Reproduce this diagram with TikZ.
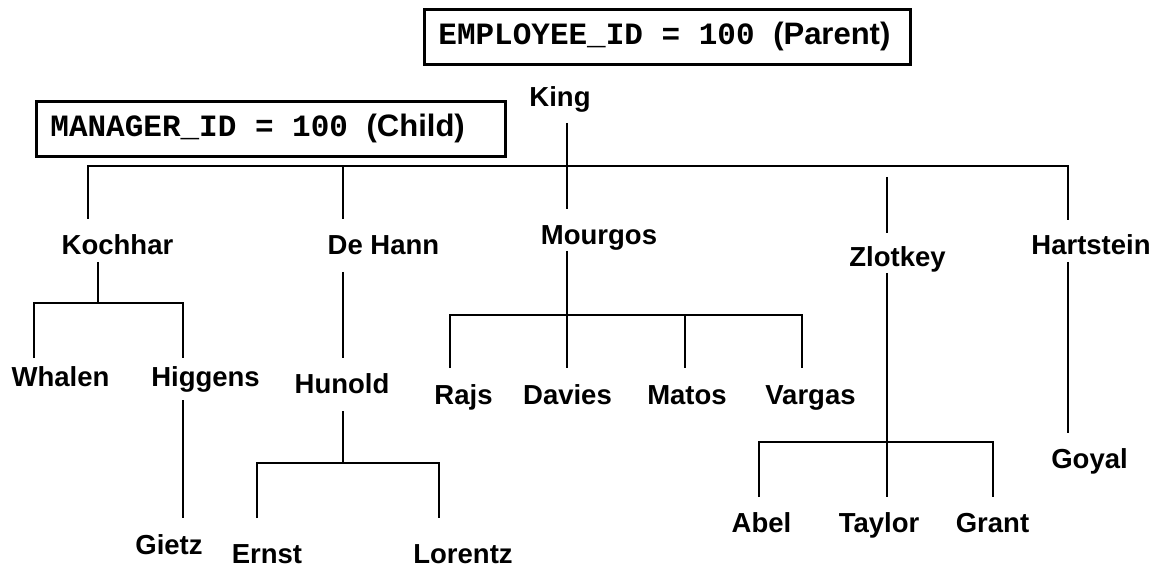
\documentclass[tikz,border=0pt]{standalone}
\usepackage{fontspec}
\setmainfont{Liberation Sans}
\setmonofont{Liberation Mono}
\newcommand\monotxt[1]{{\ttfamily\spaceskip=0.6em\relax #1}}
\begin{document}
\begin{tikzpicture}[x=1pt,y=-1pt,
  nm/.style={font=\fontsize{27.5}{30}\selectfont\bfseries, inner sep=0pt, anchor=base},
  idbox/.style={draw, line width=2.8pt, font=\fontsize{31}{34}\selectfont\bfseries,
    inner xsep=14pt, inner ysep=0pt, align=left, anchor=north west},
  conn/.style={line width=2.8pt, line join=miter}]
\useasboundingbox (0,0) rectangle (1156,569);
% boxes
\node[idbox, text width=458pt, minimum height=55pt] (parent) at (423,8)
  {\monotxt{EMPLOYEE\_ID = 100 }(Parent)};
\node[idbox, text width=441pt, minimum height=55pt] (child) at (35,100)
  {\monotxt{MANAGER\_ID = 100 }(Child)};
% names
\node[nm] (king) at (560,107) {King};
\node[nm] (kochhar) at (117.5,255) {Kochhar};
\node[nm] (dehann) at (383.5,255) {De Hann};
\node[nm] (mourgos) at (599,245) {Mourgos};
\node[nm] (zlotkey) at (897.5,266) {Zlotkey};
\node[nm] (hartstein) at (1091,255) {Hartstein};
\node[nm] (whalen) at (60.5,386) {Whalen};
\node[nm] (higgens) at (205.5,386) {Higgens};
\node[nm] (hunold) at (342,393) {Hunold};
\node[nm] (rajs) at (463.5,404) {Rajs};
\node[nm] (davies) at (567.5,404) {Davies};
\node[nm] (matos) at (687,404) {Matos};
\node[nm] (vargas) at (810.5,404) {Vargas};
\node[nm] (gietz) at (169,554) {Gietz};
\node[nm] (ernst) at (267,563) {Ernst};
\node[nm] (lorentz) at (463,563) {Lorentz};
\node[nm] (abel) at (761.5,532) {Abel};
\node[nm] (taylor) at (879,532) {Taylor};
\node[nm] (grant) at (992.5,532) {Grant};
\node[nm] (goyal) at (1089.5,468) {Goyal};
% connector end points
\coordinate (kingB) at (567,123);
\coordinate (mourgosT) at (567,209);
\coordinate (kochharT) at (88,219);
\coordinate (busL) at (88,166);
\coordinate (busR) at (1068,166);
\coordinate (busD) at (343,166);
\coordinate (dehannT) at (343,219);
\coordinate (zlotkeyD) at (887,177);
\coordinate (zlotkeyT) at (887,233);
\coordinate (hartsteinT) at (1068,220);
% Kochhar subtree
\coordinate (kochharB) at (98,262);
\coordinate (kbus) at (98,303);
\coordinate (kbusL) at (34,303);
\coordinate (kbusR) at (183,303);
\coordinate (whalenT) at (34,358);
\coordinate (higgensT) at (183,358);
\coordinate (higgensB) at (183,400);
\coordinate (gietzT) at (183,518);
% De Hann subtree
\coordinate (dehannB) at (343,272);
\coordinate (hunoldT) at (343,358);
\coordinate (hunoldB) at (343,411);
\coordinate (hbus) at (343,463);
\coordinate (hbusL) at (257,463);
\coordinate (hbusR) at (439,463);
\coordinate (ernstT) at (257,518);
\coordinate (lorentzT) at (439,518);
% Mourgos subtree
\coordinate (mourgosB) at (567,251);
\coordinate (mbusL) at (450,315);
\coordinate (mbusR) at (802,315);
\coordinate (mbusM) at (685,315);
\coordinate (rajsT) at (450,368);
\coordinate (daviesT) at (567,368);
\coordinate (matosT) at (685,368);
\coordinate (vargasT) at (802,368);
% Zlotkey subtree
\coordinate (zlotkeyB) at (887,273);
\coordinate (zbusL) at (759,442);
\coordinate (zbusR) at (993,442);
\coordinate (abelT) at (759,497);
\coordinate (taylorT) at (887,497);
\coordinate (grantT) at (993,497);
% Hartstein subtree
\coordinate (hartsteinB) at (1068,262);
\coordinate (goyalT) at (1068,433);
% connectors
\draw[conn] (kochharT) -- (busL) -- (busR) -- (hartsteinT);
\draw[conn] (busD) -- (dehannT);
\draw[conn] (kingB) -- (mourgosT);
\draw[conn] (zlotkeyD) -- (zlotkeyT);
\draw[conn] (kochharB) -- (kbus);
\draw[conn] (whalenT) -- (kbusL) -- (kbusR) -- (higgensT);
\draw[conn] (higgensB) -- (gietzT);
\draw[conn] (dehannB) -- (hunoldT);
\draw[conn] (hunoldB) -- (hbus);
\draw[conn] (ernstT) -- (hbusL) -- (hbusR) -- (lorentzT);
\draw[conn] (mourgosB) -- (daviesT);
\draw[conn] (rajsT) -- (mbusL) -- (mbusR) -- (vargasT);
\draw[conn] (mbusM) -- (matosT);
\draw[conn] (zlotkeyB) -- (taylorT);
\draw[conn] (abelT) -- (zbusL) -- (zbusR) -- (grantT);
\draw[conn] (hartsteinB) -- (goyalT);
\end{tikzpicture}
\end{document}
